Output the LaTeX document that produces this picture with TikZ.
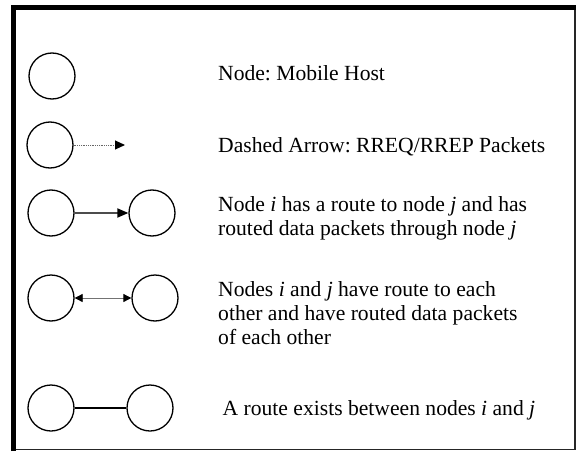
\documentclass[tikz,border=0pt]{standalone}
\usepackage{fontspec}
\setmainfont{Liberation Serif}
\usetikzlibrary{arrows.meta}
\begin{document}
\frenchspacing
\begin{tikzpicture}[x=1pt,y=-1pt,
  host/.style={draw, circle, line width=1.3pt, minimum size=46pt, inner sep=0pt},
  lbl/.style={anchor=base west, inner sep=0pt, font=\fontsize{21.6}{24}\selectfont\frenchspacing}]
\useasboundingbox (0,0) rectangle (578,452);
% frame
\draw[line width=1.5pt, black!85] (575,8) -- (575,449.5) -- (11,449.5);
\draw[line width=5pt] (13.5,451) -- (13.5,8) -- (576,8);
% row 1
\node[host] (h1) at (52,76) {};
\node[lbl] (t1) at (218,81) {Node: Mobile Host};
% row 2
\node[host] (h2) at (50,145) {};
\coordinate (d2) at (125,145);
\draw[line width=1pt, black!60, dash pattern=on 1pt off 0.8pt, -{Triangle[length=10pt,width=9pt,color=black]}] (h2) -- (d2);
\node[lbl] (t2) at (218,152) {Dashed Arrow: RREQ/RREP Packets};
% row 3
\node[host] (a3) at (51,213) {};
\node[host] (b3) at (152,213) {};
\draw[line width=1.8pt, black!70, -{Triangle[length=11pt,width=9pt,color=black]}] (a3) -- (b3);
\node[lbl] (t3a) at (218,211.5) {Node \textit{i} has a route to node \textit{j} and has};
\node[lbl] (t3b) at (218,235.5) {routed data packets through node \textit{j}};
% row 4
\node[host] (a4) at (51,298) {};
\node[host] (b4) at (155,298) {};
\draw[line width=0.8pt, black!55, {Triangle[length=8pt,width=8pt,color=black]}-{Triangle[length=8pt,width=8pt,color=black]}] (a4) -- (b4);
\node[lbl] (t4a) at (218,296) {Nodes \textit{i} and \textit{j} have route to each};
\node[lbl] (t4b) at (218,320) {other and have routed data packets};
\node[lbl] (t4c) at (218,344) {of each other};
% row 5
\node[host] (a5) at (51,408) {};
\node[host] (b5) at (150,408) {};
\draw[line width=2.2pt] (a5) -- (b5);
\node[lbl] (t5) at (222.5,415) {A route exists between nodes \textit{i} and \textit{j}};
\end{tikzpicture}
\end{document}
